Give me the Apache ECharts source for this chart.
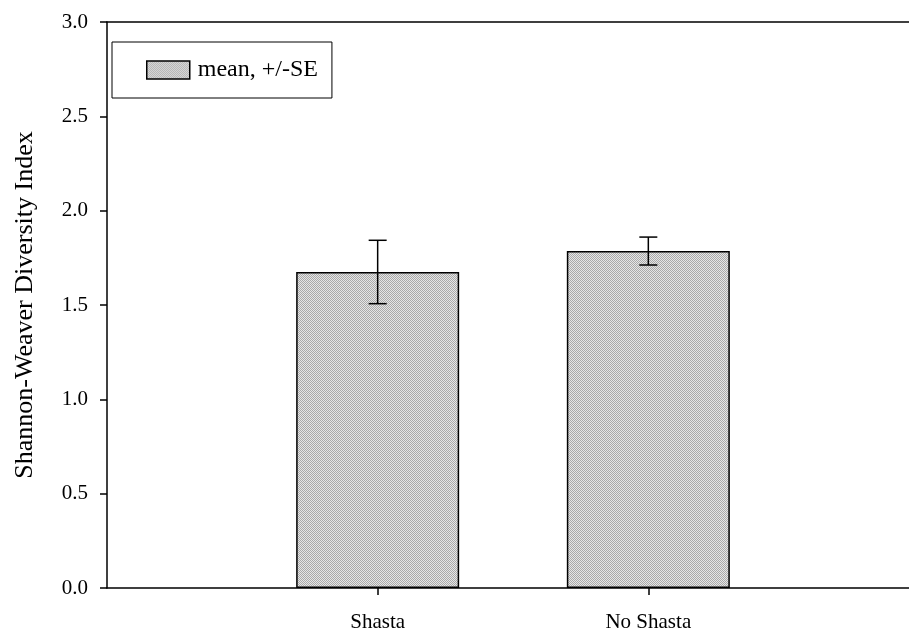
<!DOCTYPE html>
<html>
<head>
<meta charset="utf-8">
<script src="https://cdn.jsdelivr.net/npm/echarts@6/dist/echarts.min.js"></script>
<style>
  html, body { margin: 0; padding: 0; background: #fff; }
  #chart { width: 909px; height: 635px; }
</style>
</head>
<body>
<div id="chart"></div>
<script>
const categories = ['Shasta', 'No Shasta'];
const means = [1.675, 1.786];
const se = [0.168, 0.074];
const yTicks = [0, 0.5, 1.0, 1.5, 2.0, 2.5, 3.0];

const font = '"Liberation Serif", "Times New Roman", serif';

// stippled grey fill like the scanned plot
function stipple() {
  const c = document.createElement('canvas');
  c.width = 4;
  c.height = 4;
  const ctx = c.getContext('2d');
  ctx.fillStyle = '#e6e6e6';
  ctx.fillRect(0, 0, 4, 4);
  ctx.fillStyle = '#a9a9a9';
  for (let y = 0; y < 4; y++) {
    for (let x = 0; x < 4; x++) {
      if ((x + y) % 2 === 0) ctx.fillRect(x, y, 1, 1);
    }
  }
  return c;
}
const pattern = { image: stipple(), repeat: 'repeat' };

const barData = categories.map((name, i) => [i + 1, means[i]]);
const errData = categories.map((name, i) => [i + 1, means[i] - se[i], means[i] + se[i]]);

const axisColor = { color: '#000', width: 1.5 };
const xMax = 803 / 271;

const chart = echarts.init(document.getElementById('chart'));
chart.setOption({
  backgroundColor: '#fff',
  animation: false,
  grid: { left: 107, top: 22, bottom: 47, width: 803 },
  legend: {
    left: 112, top: 42,
    padding: [16, 14, 16, 34],
    borderColor: '#000', borderWidth: 1,
    itemWidth: 43, itemHeight: 18,
    icon: 'rect',
    textStyle: { fontFamily: font, fontSize: 24, color: '#000', padding: [0, 0, 0, 3] },
    data: [{ name: 'mean, +/-SE', itemStyle: { color: pattern, borderColor: '#000', borderWidth: 1.5 } }]
  },
  xAxis: [
    {
      type: 'value', min: 0, max: xMax,
      splitLine: { show: false },
      axisLine: { lineStyle: axisColor },
      axisTick: { customValues: [1, 2], length: 7, lineStyle: axisColor },
      axisLabel: {
        customValues: [1, 2],
        formatter: v => categories[Math.round(v) - 1] || '',
        fontFamily: font, fontSize: 21, color: '#000', margin: 24
      }
    },
    {
      // top frame line
      type: 'value', position: 'top', min: 0, max: xMax,
      splitLine: { show: false },
      axisLine: { show: true, lineStyle: axisColor },
      axisTick: { show: false },
      axisLabel: { show: false }
    }
  ],
  yAxis: {
    type: 'value', min: yTicks[0], max: yTicks[yTicks.length - 1], interval: 0.5,
    splitLine: { show: false },
    axisLine: { lineStyle: axisColor },
    axisTick: { length: 7, lineStyle: axisColor },
    axisLabel: { formatter: v => v.toFixed(1), fontFamily: font, fontSize: 21, color: '#000', margin: 19 },
    name: 'Shannon-Weaver Diversity Index',
    nameLocation: 'middle', nameGap: 69,
    nameTextStyle: { fontFamily: font, fontSize: 26, color: '#000' }
  },
  series: [
    {
      name: 'mean, +/-SE',
      type: 'bar',
      barWidth: 163,
      data: barData,
      itemStyle: { color: pattern, borderColor: '#000', borderWidth: 1.5 }
    },
    {
      type: 'custom',
      data: errData,
      z: 5,
      renderItem: (params, api) => {
        const lo = api.coord([api.value(0), api.value(1)]);
        const hi = api.coord([api.value(0), api.value(2)]);
        const half = 9;
        const st = { stroke: '#000', lineWidth: 1.5 };
        return {
          type: 'group',
          children: [
            { type: 'line', shape: { x1: lo[0], y1: lo[1], x2: hi[0], y2: hi[1] }, style: st },
            { type: 'line', shape: { x1: lo[0] - half, y1: lo[1], x2: lo[0] + half, y2: lo[1] }, style: st },
            { type: 'line', shape: { x1: hi[0] - half, y1: hi[1], x2: hi[0] + half, y2: hi[1] }, style: st }
          ]
        };
      }
    }
  ]
});
window.addEventListener('resize', () => {
  chart.resize();
});
</script>
</body>
</html>
